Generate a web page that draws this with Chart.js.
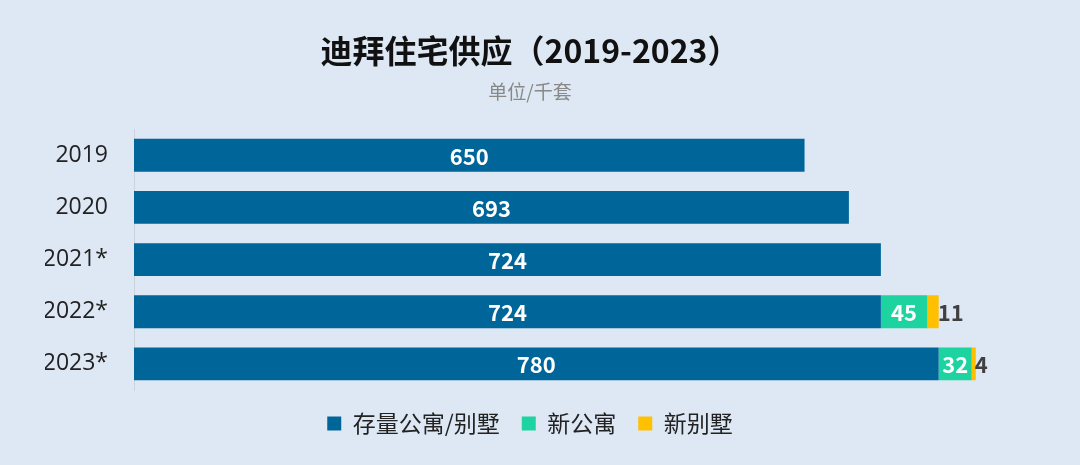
<!DOCTYPE html>
<html><head><meta charset="utf-8">
<script src="https://cdn.jsdelivr.net/npm/chart.js@4"></script>
<style>html,body{margin:0;padding:0;background:#dde8f4;}#w{width:1080px;height:465px;}</style>
</head><body><div id="w"><canvas id="c"></canvas></div>
<script>
const categories = ['2019','2020','2021*','2022*','2023*'];
const existing = [650,693,724,724,780];
const newApts = [null,null,null,45,32];
const newVillas = [null,null,null,11,4];
const seriesNames = ['存量公寓/别墅','新公寓','新别墅'];
const F = '"Noto Sans CJK SC","Noto Sans",sans-serif';
const TF = '"Open Sans","Noto Sans",sans-serif';

const labelPlugin = {
  id:'lbl',
  afterDatasetsDraw(chart){
    const ctx = chart.ctx;
    chart.data.datasets.forEach((ds,i)=>{
      const meta = chart.getDatasetMeta(i);
      meta.data.forEach((bar,j)=>{
        const v = ds.data[j];
        if(v==null) return;
        ctx.save();
        ctx.font = 'bold 22px '+F;
        ctx.textBaseline='middle';
        if(i===2){
          ctx.fillStyle='#404040'; ctx.textAlign='left';
          ctx.fillText(v, bar.x-1, bar.y+1);
        } else {
          ctx.fillStyle='#fff'; ctx.textAlign='center';
          ctx.fillText(v, (bar.x + bar.base)/2, bar.y+1);
        }
        ctx.restore();
      });
    });
  }
};

new Chart(document.getElementById('c'),{
  type:'bar',
  data:{labels:categories,datasets:[
    {label:seriesNames[0],data:existing,backgroundColor:'#006699'},
    {label:seriesNames[1],data:newApts,backgroundColor:'#1dd3a0'},
    {label:seriesNames[2],data:newVillas,backgroundColor:'#ffc000'}
  ]},
  options:{
    indexAxis:'y',responsive:true,maintainAspectRatio:false,animation:false,
    datasets:{bar:{barPercentage:0.63,categoryPercentage:1}},
    layout:{padding:{left:45,right:65,top:10,bottom:20}},
    scales:{
      x:{stacked:true,min:0,max:854,display:false},
      y:{stacked:true,grid:{display:false,drawTicks:false},border:{display:true,color:'#c8d3de'},
         afterFit(s){s.width=89;},
         ticks:{color:'#222',font:{size:23,family:TF},padding:26}}
    },
    plugins:{
      title:{display:true,text:'迪拜住宅供应（2019-2023）',color:'#111',font:{size:32,weight:'bold',family:F},padding:{top:22,bottom:10}},
      subtitle:{display:true,text:'单位/千套',color:'#888',font:{size:19,family:F},padding:{bottom:26}},
      legend:{position:'bottom',labels:{color:'#222',font:{size:23,family:F},boxWidth:14,boxHeight:14,padding:22}},
      tooltip:{enabled:false}
    }
  },
  plugins:[labelPlugin]
});
</script></body></html>
